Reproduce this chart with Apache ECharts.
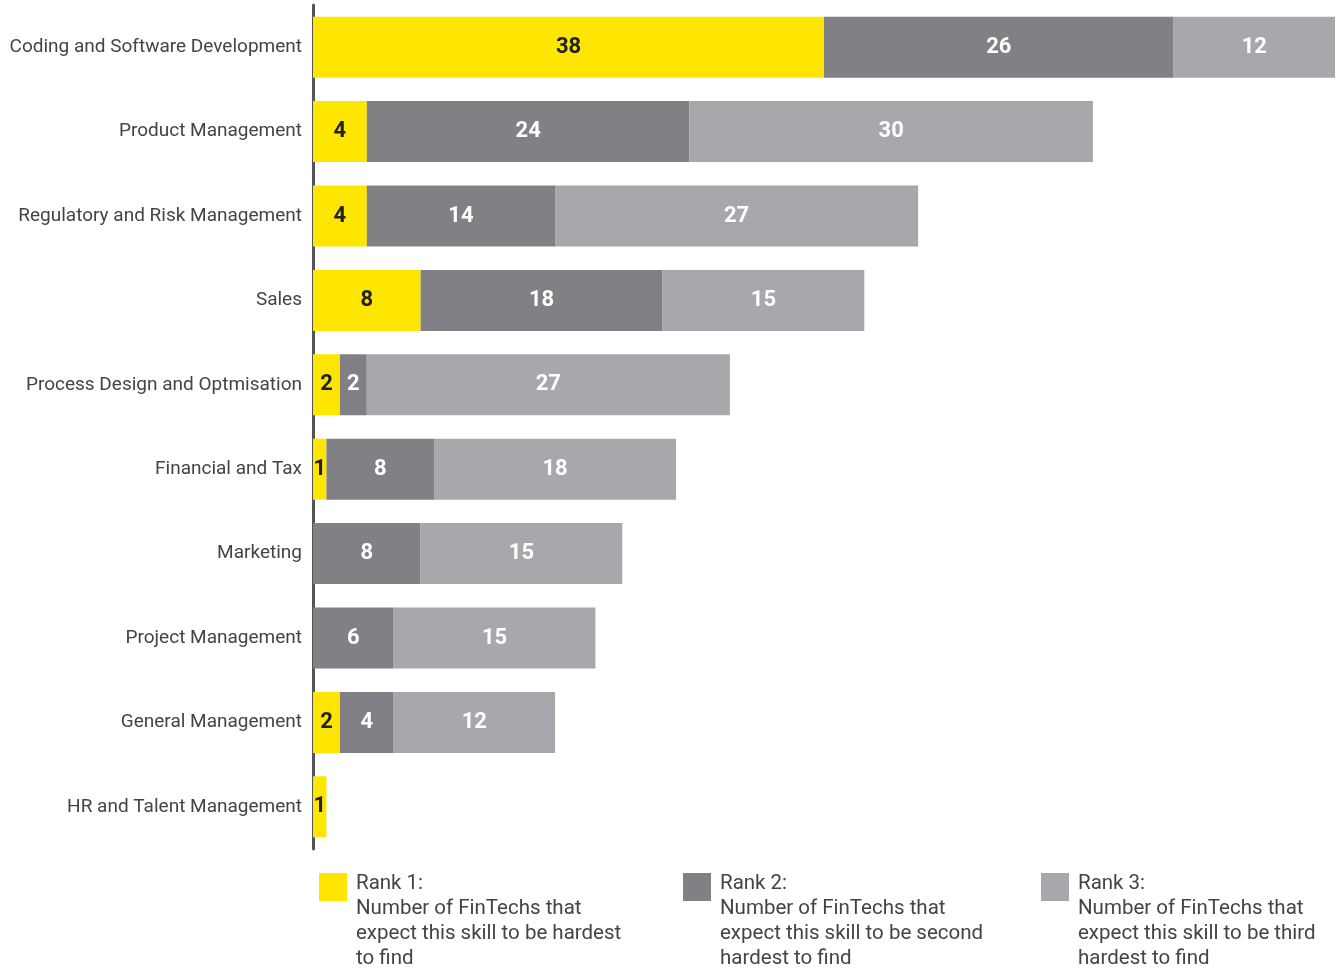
<!DOCTYPE html>
<html>
<head>
<meta charset="utf-8">
<script src="https://cdn.jsdelivr.net/npm/echarts@6/dist/echarts.min.js"></script>
<style>
html,body{margin:0;padding:0;background:#fff;}
#chart{width:1340px;height:970px;}
</style>
</head>
<body>
<div id="chart"></div>
<script>
const categories = [
  'Coding and Software Development',
  'Product Management',
  'Regulatory and Risk Management',
  'Sales',
  'Process Design and Optmisation',
  'Financial and Tax',
  'Marketing',
  'Project Management',
  'General Management',
  'HR and Talent Management'
];
const rank1 = [38, 4, 4, 8, 2, 1, 0, 0, 2, 1];
const rank2 = [26, 24, 14, 18, 2, 8, 8, 6, 4, 0];
const rank3 = [12, 30, 27, 15, 27, 18, 15, 15, 12, 0];
const seriesNames = [
  'Rank 1:\nNumber of FinTechs that\nexpect this skill to be hardest\nto find',
  'Rank 2:\nNumber of FinTechs that\nexpect this skill to be second\nhardest to find',
  'Rank 3:\nNumber of FinTechs that\nexpect this skill to be third\nhardest to find'
];
const colors = ['#FFE600', '#808085', '#A7A8AB'];
const labelColors = ['#222222', '#ffffff', '#ffffff'];
const FONT = 'Roboto';

const chart = echarts.init(document.getElementById('chart'), null, {renderer: 'canvas'});

function mkSeries(i, data) {
  return {
    name: seriesNames[i],
    type: 'bar',
    stack: 'total',
    barWidth: 61,
    data: data,
    itemStyle: {color: colors[i]},
    label: {
      show: true,
      position: 'inside',
      color: labelColors[i],
      fontFamily: FONT,
      fontWeight: 'bold',
      fontSize: 22,
      formatter: p => (p.value ? String(p.value) : '')
    },
    emphasis: {disabled: true}
  };
}

function mkLegend(i, left) {
  return {
    data: [seriesNames[i]],
    left: left,
    top: 832,
    orient: 'vertical',
    itemWidth: 28,
    itemHeight: 28,
    itemGap: 0,
    icon: 'rect',
    selectedMode: false,
    padding: 0,
    formatter: name => '{s| }\n' + name.split('\n').map(l => '{t|' + l + '}').join('\n'),
    textStyle: {
      fontFamily: FONT,
      fontSize: 20,
      color: '#444',
      rich: {
        s: {fontSize: 10, lineHeight: 69},
        t: {fontFamily: FONT, fontSize: 20.5, color: '#444', lineHeight: 25, padding: [0, 0, 0, 4]}
      }
    }
  };
}

chart.setOption({
  animation: false,
  grid: {left: 313, right: 5, top: 5, height: 844, containLabel: false},
  xAxis: {
    type: 'value',
    min: 0,
    max: 76,
    show: false
  },
  yAxis: {
    type: 'category',
    data: categories,
    inverse: true,
    axisLine: {show: true, lineStyle: {color: '#555', width: 3}},
    axisTick: {show: false},
    axisLabel: {
      fontFamily: FONT,
      fontSize: 19,
      color: '#444',
      margin: 11
    }
  },
  legend: [mkLegend(0, 319), mkLegend(1, 683), mkLegend(2, 1041)],
  series: [mkSeries(0, rank1), mkSeries(1, rank2), mkSeries(2, rank3)]
});
</script>
</body>
</html>
